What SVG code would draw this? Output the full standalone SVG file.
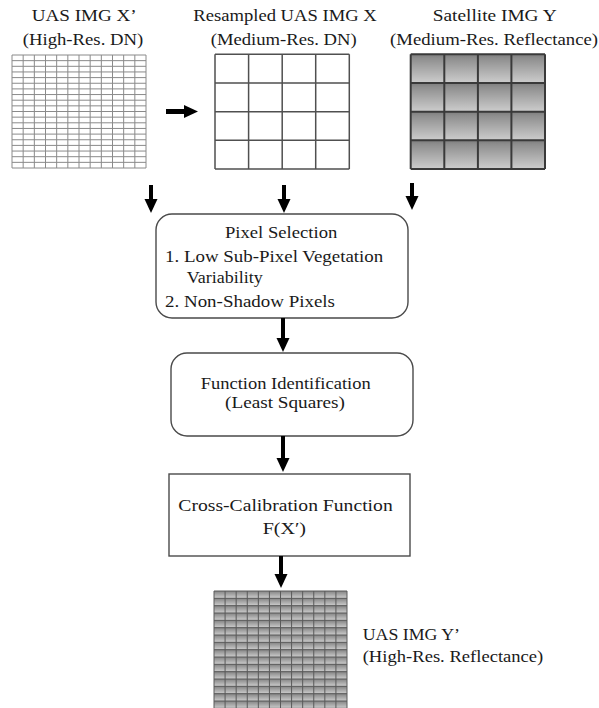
<svg xmlns="http://www.w3.org/2000/svg" width="599" height="708" viewBox="0 0 599 708">
<style>
text{font-family:"Liberation Serif","Times New Roman",serif;fill:#1a1a1a}
.t{font-size:16.5px}
.b{font-size:17.5px}
.box{fill:#fff;stroke:#4a4a4a;stroke-width:1.4}
.g1{fill:none;stroke:#8a8a8a;stroke-width:1}
.g2{fill:none;stroke:#505050;stroke-width:1.5}
.g3{fill:none;stroke:#3a3a3a;stroke-width:2}
.g4{fill:none;stroke:#5a5a5a;stroke-width:1}
.arr{stroke:#000;stroke-width:4;fill:none}
</style>
<defs>
<marker id="ah" markerUnits="userSpaceOnUse" markerWidth="15" markerHeight="14" refX="1" refY="6.5" orient="auto" viewBox="0 0 15 14">
<path d="M0,0 L14,6.5 L0,13 z" fill="#000"/>
</marker>
<linearGradient id="cg" x1="0" y1="0" x2="0" y2="1">
<stop offset="0" stop-color="#7e7e7e"/>
<stop offset="0.15" stop-color="#8f8f8f"/>
<stop offset="1" stop-color="#cdcdcd"/>
</linearGradient>
<pattern id="p3" patternUnits="userSpaceOnUse" x="410.7" y="54.3" width="33.575" height="28.675">
<rect width="33.575" height="28.675" fill="url(#cg)"/>
</pattern>
<pattern id="p4" patternUnits="userSpaceOnUse" x="214" y="591" width="11.0833" height="7.3333">
<rect width="11.0833" height="7.3333" fill="url(#cg)"/>
</pattern>
</defs>

<g id="img-x-prime">
<text class="t" x="31.7" y="20.7" textLength="105" lengthAdjust="spacingAndGlyphs">UAS IMG X’</text>
<text class="t" x="22.7" y="44.5" textLength="120.6" lengthAdjust="spacingAndGlyphs">(High-Res. DN)</text>
<rect x="12" y="55" width="134" height="113" fill="#fff"/>
<path class="g1" d="M12 55V168M23.17 55V168M34.33 55V168M45.5 55V168M56.67 55V168M67.83 55V168M79 55V168M90.17 55V168M101.33 55V168M112.5 55V168M123.67 55V168M134.83 55V168M146 55V168
M12 55H146M12 60.65H146M12 66.3H146M12 71.95H146M12 77.6H146M12 83.25H146M12 88.9H146M12 94.55H146M12 100.2H146M12 105.85H146M12 111.5H146M12 117.15H146M12 122.8H146M12 128.45H146M12 134.1H146M12 139.75H146M12 145.4H146M12 151.05H146M12 156.7H146M12 162.35H146M12 168H146"/>
</g>

<g id="img-x">
<text class="t" x="193.3" y="20.7" textLength="183.4" lengthAdjust="spacingAndGlyphs">Resampled UAS IMG X</text>
<text class="t" x="210.7" y="44.5" textLength="146" lengthAdjust="spacingAndGlyphs">(Medium-Res. DN)</text>
<rect x="215" y="54.3" width="134.3" height="114.7" fill="#fff"/>
<path class="g2" d="M215 54.3V169M248.6 54.3V169M282.2 54.3V169M315.7 54.3V169M349.3 54.3V169M215 54.3H349.3M215 83H349.3M215 111.7H349.3M215 140.3H349.3M215 169H349.3"/>
</g>

<g id="img-y">
<text class="t" x="432.7" y="20.7" textLength="124" lengthAdjust="spacingAndGlyphs">Satellite  IMG Y</text>
<text class="t" x="390" y="44.5" textLength="208" lengthAdjust="spacingAndGlyphs">(Medium-Res. Reflectance)</text>
<rect x="410.7" y="54.3" width="134.3" height="114.7" fill="url(#p3)"/>
<path class="g3" d="M410.7 54.3V169M444.3 54.3V169M477.9 54.3V169M511.4 54.3V169M545 54.3V169M410.7 54.3H545M410.7 83H545M410.7 111.7H545M410.7 140.3H545M410.7 169H545"/>
</g>

<g id="pixel-selection">
<rect class="box" x="156" y="214" width="252" height="104" rx="16" ry="16"/>
<text class="b" x="225" y="238.3" textLength="112.3" lengthAdjust="spacingAndGlyphs">Pixel  Selection</text>
<text class="b" x="165" y="261.7" textLength="218.3" lengthAdjust="spacingAndGlyphs">1. Low Sub-Pixel Vegetation</text>
<text class="b" x="186.7" y="283" textLength="76" lengthAdjust="spacingAndGlyphs">Variability</text>
<text class="b" x="165" y="307.3" textLength="170" lengthAdjust="spacingAndGlyphs">2. Non-Shadow Pixels</text>
</g>

<g id="function-identification">
<rect class="box" x="171" y="353" width="242" height="83" rx="16" ry="16"/>
<text class="b" x="200.7" y="389.3" textLength="170" lengthAdjust="spacingAndGlyphs">Function Identification</text>
<text class="b" x="225" y="408.3" textLength="120" lengthAdjust="spacingAndGlyphs">(Least Squares)</text>
</g>

<g id="cross-calibration">
<rect class="box" x="169" y="474" width="241" height="82"/>
<text class="b" x="178.3" y="510.7" textLength="214.4" lengthAdjust="spacingAndGlyphs">Cross-Calibration  Function</text>
<text class="b" x="262.7" y="534.3" textLength="43.3" lengthAdjust="spacingAndGlyphs">F(X′)</text>
</g>

<g id="img-y-prime">
<rect x="214" y="591" width="133" height="120" fill="url(#p4)"/>
<path class="g4" d="M214 591V711M225.08 591V711M236.17 591V711M247.25 591V711M258.33 591V711M269.42 591V711M280.5 591V711M291.58 591V711M302.67 591V711M313.75 591V711M324.83 591V711M335.92 591V711M347 591V711
M214 591H347M214 598.33H347M214 605.67H347M214 613H347M214 620.33H347M214 627.67H347M214 635H347M214 642.33H347M214 649.67H347M214 657H347M214 664.33H347M214 671.67H347M214 679H347M214 686.33H347M214 693.67H347M214 701H347M214 708.33H347"/>
<text class="t" x="362.7" y="640" textLength="97.3" lengthAdjust="spacingAndGlyphs">UAS IMG Y’</text>
<text class="t" x="362.7" y="661.7" textLength="180.6" lengthAdjust="spacingAndGlyphs">(High-Res. Reflectance)</text>
</g>

<g id="connectors">
<line class="arr" x1="166" y1="111.5" x2="185" y2="111.5" style="stroke-width:5" marker-end="url(#ah)"/>
<line class="arr" x1="151" y1="185" x2="151" y2="200" marker-end="url(#ah)"/>
<line class="arr" x1="284" y1="185" x2="284" y2="200" marker-end="url(#ah)"/>
<line class="arr" x1="412" y1="183" x2="412" y2="197" marker-end="url(#ah)"/>
<line class="arr" x1="283" y1="318" x2="283" y2="339" marker-end="url(#ah)"/>
<line class="arr" x1="283" y1="436" x2="283" y2="459" marker-end="url(#ah)"/>
<line class="arr" x1="281" y1="556" x2="281" y2="575" marker-end="url(#ah)"/>
</g>
</svg>
